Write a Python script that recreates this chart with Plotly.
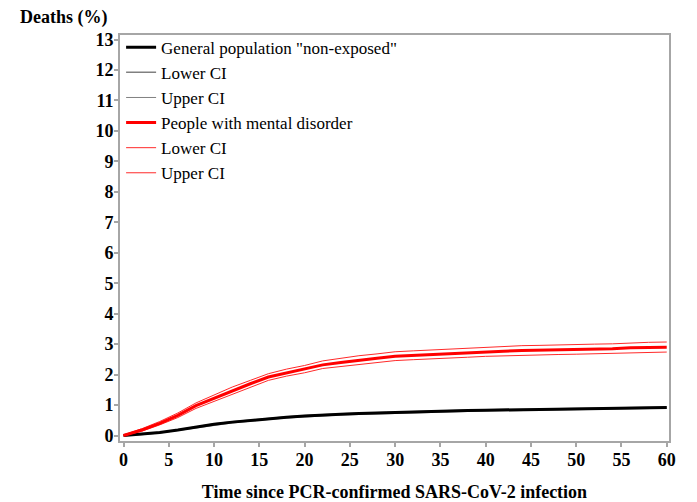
import plotly.graph_objects as go

days = [0, 2, 4, 6, 8, 10, 12, 14, 16, 18, 20, 22, 24, 26, 28, 30,
        32, 34, 36, 38, 40, 42, 44, 46, 48, 50, 52, 54, 56, 58, 60]

gen_pop = [0, 0.04, 0.10, 0.18, 0.28, 0.37, 0.44, 0.50, 0.56, 0.60, 0.64, 0.68, 0.70, 0.72, 0.74, 0.76,
           0.78, 0.79, 0.80, 0.82, 0.83, 0.84, 0.85, 0.86, 0.87, 0.88, 0.89, 0.90, 0.90, 0.91, 0.92]
gen_lower = [0, 0.03, 0.09, 0.17, 0.26, 0.35, 0.42, 0.48, 0.54, 0.58, 0.62, 0.66, 0.68, 0.70, 0.72, 0.74,
             0.76, 0.77, 0.78, 0.80, 0.81, 0.82, 0.83, 0.84, 0.85, 0.86, 0.87, 0.88, 0.88, 0.89, 0.90]
gen_upper = [0, 0.05, 0.11, 0.19, 0.30, 0.39, 0.46, 0.52, 0.58, 0.62, 0.66, 0.70, 0.72, 0.74, 0.76, 0.78,
             0.80, 0.81, 0.82, 0.84, 0.85, 0.86, 0.87, 0.88, 0.89, 0.90, 0.91, 0.92, 0.92, 0.93, 0.94]

mental = [0, 0.18, 0.40, 0.66, 0.98, 1.22, 1.48, 1.70, 1.92, 2.06, 2.18, 2.32, 2.40, 2.48, 2.54, 2.60,
          2.63, 2.66, 2.70, 2.72, 2.75, 2.77, 2.79, 2.80, 2.82, 2.83, 2.84, 2.85, 2.88, 2.89, 2.90]
mental_lower = [0, 0.14, 0.35, 0.59, 0.89, 1.12, 1.37, 1.59, 1.81, 1.95, 2.06, 2.20, 2.27, 2.34, 2.40, 2.46,
                2.49, 2.51, 2.55, 2.57, 2.60, 2.62, 2.63, 2.64, 2.66, 2.67, 2.68, 2.69, 2.72, 2.73, 2.74]
mental_upper = [0.02, 0.22, 0.46, 0.74, 1.07, 1.32, 1.59, 1.81, 2.03, 2.18, 2.30, 2.45, 2.54, 2.62, 2.68, 2.75,
                2.78, 2.81, 2.85, 2.88, 2.91, 2.93, 2.95, 2.96, 2.98, 2.99, 3.00, 3.01, 3.04, 3.06, 3.07]

x_ticks = [0, 5, 10, 15, 20, 25, 30, 35, 40, 45, 50, 55, 60]
y_ticks = list(range(0, 14))

FONT = "Liberation Serif, Times New Roman, serif"

fig = go.Figure()
# drawing order: CIs first, main lines on top; legendrank controls legend order
fig.add_trace(go.Scatter(x=days, y=gen_lower, mode="lines", name="Lower CI", legendrank=2,
                         line=dict(color="#808080", width=1.5)))
fig.add_trace(go.Scatter(x=days, y=gen_upper, mode="lines", name="Upper CI", legendrank=3,
                         line=dict(color="#808080", width=1)))
fig.add_trace(go.Scatter(x=days, y=gen_pop, mode="lines", name='General population "non-exposed"',
                         legendrank=1, line=dict(color="black", width=3)))
fig.add_trace(go.Scatter(x=days, y=mental_lower, mode="lines", name="Lower CI", legendrank=5,
                         line=dict(color="#ff2a2a", width=1)))
fig.add_trace(go.Scatter(x=days, y=mental_upper, mode="lines", name="Upper CI", legendrank=6,
                         line=dict(color="#ff2a2a", width=1)))
fig.add_trace(go.Scatter(x=days, y=mental, mode="lines", name="People with mental disorder",
                         legendrank=4, line=dict(color="#ff0000", width=3)))

fig.update_layout(
    template="none",
    width=697, height=502,
    margin=dict(l=120, r=28, t=35, b=61),
    paper_bgcolor="white", plot_bgcolor="white",
    font=dict(family=FONT, color="black"),
    showlegend=True,
    legend=dict(x=0.002, y=1.013, xanchor="left", yanchor="top",
                font=dict(family=FONT, size=17, color="black"),
                bgcolor="rgba(0,0,0,0)", tracegroupgap=0, itemwidth=30,
                traceorder="normal"),
    xaxis=dict(range=[-0.39, 60.25], tickvals=x_ticks, showgrid=False, zeroline=False,
               automargin=False,
               showline=True, mirror=True, linecolor="#a6a6a6", linewidth=2,
               ticks="outside", ticklen=4, tickcolor="#a6a6a6", tickwidth=2,
               ticklabelstandoff=-3,
               tickfont=dict(family=FONT, size=18, color="black", weight="bold"),
               title=dict(text="<b>Time since PCR-confirmed SARS-CoV-2 infection</b>",
                          font=dict(family=FONT, size=18, color="black"), standoff=18)),
    yaxis=dict(range=[-0.18, 13.15], tickvals=y_ticks, showgrid=False, zeroline=False,
               automargin=False,
               showline=True, mirror=True, linecolor="#a6a6a6", linewidth=2,
               ticks="outside", ticklen=4, tickcolor="#a6a6a6", tickwidth=2,
               ticklabelstandoff=-3,
               tickfont=dict(family=FONT, size=18, color="black", weight="bold")),
    annotations=[dict(text="<b>Deaths (%)</b>", xref="paper", yref="paper",
                      x=-0.185, y=1.0, xanchor="left", yanchor="bottom", yshift=5,
                      showarrow=False, font=dict(family=FONT, size=18, color="black"))],
)

fig.write_html("out.html", config={"displayModeBar": False},
               post_script="document.body.style.margin='0';")
